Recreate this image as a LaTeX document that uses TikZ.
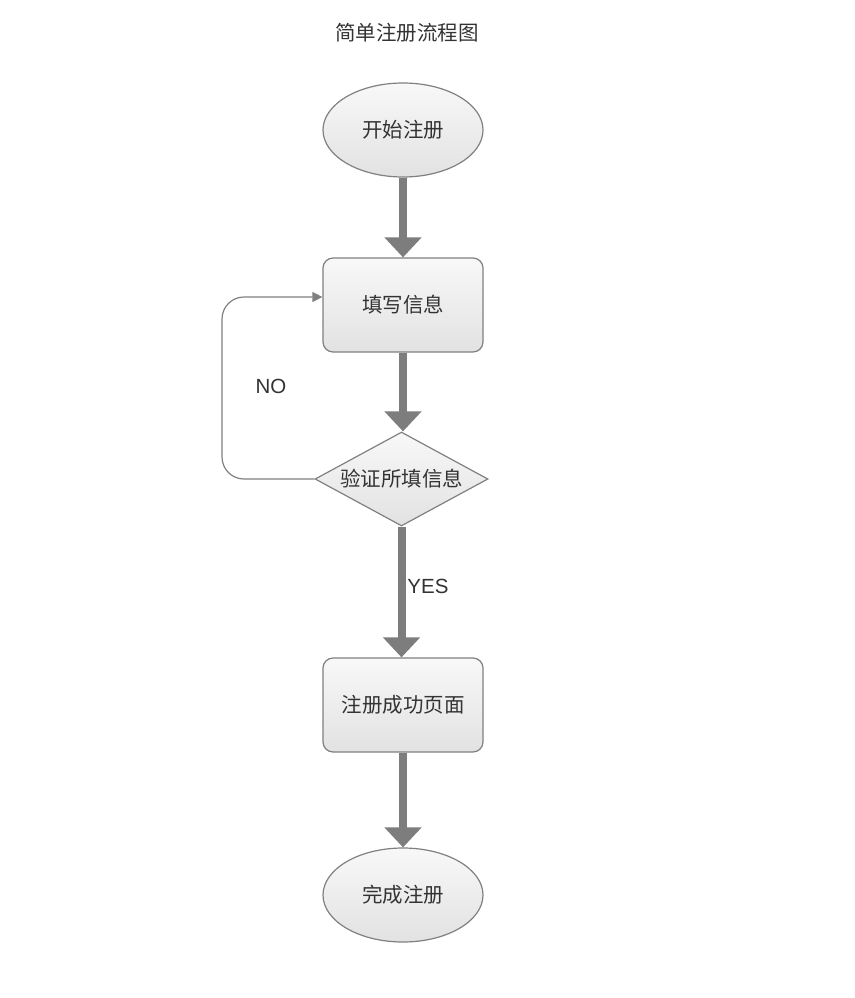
\documentclass[tikz,border=0pt]{standalone}
\usepackage{fontspec}
\setmainfont{Liberation Sans}
\newfontfamily\cjk{Noto Sans CJK SC}
\usetikzlibrary{shapes.geometric,arrows.meta,positioning}
\definecolor{linegray}{RGB}{128,128,128}
\definecolor{arrowgray}{RGB}{125,125,125}
\definecolor{txtgray}{RGB}{51,51,51}
\definecolor{topfill}{RGB}{248,248,248}
\definecolor{botfill}{RGB}{226,226,226}
\tikzset{
  base/.style={draw=linegray,line width=1.2pt,top color=topfill,bottom color=botfill,
    text=txtgray,font=\cjk\fontsize{20.5}{24}\selectfont,inner sep=0pt},
  terminal/.style={base,ellipse,minimum width=160pt,minimum height=94pt},
  process/.style={base,rectangle,rounded corners=10pt,minimum width=160pt,minimum height=94pt},
  decision/.style={base,diamond,aspect=1.84,minimum width=173pt,minimum height=94pt},
  flow/.style={draw=arrowgray,line width=8pt,-{Triangle[width=36pt,length=20pt]}},
  loopback/.style={draw=linegray,line width=1.2pt,rounded corners=22pt,-{Triangle[width=10pt,length=10pt]}},
  caption/.style={text=txtgray,font=\fontsize{20.5}{24}\selectfont}
}
\begin{document}
\begin{tikzpicture}[x=1pt,y=-1pt]
  \useasboundingbox (0,0) rectangle (854,998);
  \node[text=txtgray,font=\cjk\fontsize{20.5}{24}\selectfont] (title) at (407,33) {简单注册流程图};
  % nodes
  \node[terminal] (start) at (403,130) {开始注册};
  \node[process]  (fill)  at (403,305) {填写信息};
  \node[decision] (check) at (401.5,479) {验证所填信息};
  \node[process]  (done)  at (403,705) {注册成功页面};
  \node[terminal] (stop)  at (403,895) {完成注册};
  % main flow
  \draw[flow] (start) -- (fill);
  \draw[flow] (fill.south) -- (fill.south |- check.north);
  \draw[flow] (check.south) -- (check.south |- done.north);
  \draw[flow] (done) -- (stop);
  \node[caption] (yes) at (428,586) {YES};
  % back to the form
  \coordinate (back) at (fill.west |- 0,297);
  \draw[loopback] (check.west) -- (222,479) -- (222,297) -- (back);
  \node[caption] (no) at (271,386) {NO};
\end{tikzpicture}
\end{document}
